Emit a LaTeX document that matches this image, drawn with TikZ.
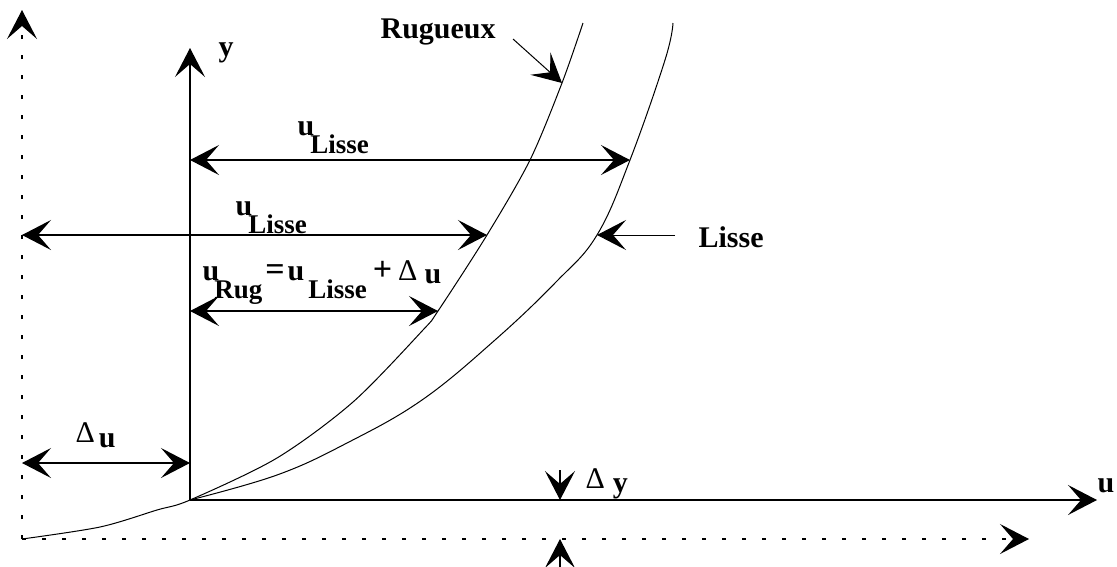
\documentclass[tikz,border=0pt]{standalone}
\usepackage{fontspec}
\setmainfont{Liberation Serif}
\usetikzlibrary{arrows.meta}
\newcommand{\indice}[1]{\raisebox{-18pt}{\fontsize{27}{30}\selectfont #1}}
\newcommand{\delt}{{\fontsize{30}{30}\selectfont\mdseries Δ}}
\newcommand{\gros}[1]{{\fontsize{34}{34}\selectfont #1}}

\begin{document}
\begin{tikzpicture}[x=1pt,y=-1pt,>={Stealth[length=29pt,width=30pt,inset=13pt]},
  line width=1.2pt,font=\fontsize{30}{36}\selectfont\bfseries,
  pointille/.style={dash pattern=on 4pt off 16pt},
  lab/.style={anchor=base west,inner sep=0pt}]
  \useasboundingbox (0,0) rectangle (1117,566);

  % origines et axes
  \coordinate (O) at (190,500);
  \coordinate (Od) at (22,539);
  \coordinate (Y) at (190,48);
  \coordinate (U) at (1097,500);
  \coordinate (Yd) at (22,10);
  \coordinate (Ud) at (1029,539);

  % points sur les courbes
  \coordinate (L1) at (630,160);
  \coordinate (L2) at (597,235);
  \coordinate (R1) at (562,83);
  \coordinate (R2) at (487,235);
  \coordinate (R3) at (438,311);

  % autres extremites
  \coordinate (A1) at (190,160);
  \coordinate (A2) at (22,235);
  \coordinate (A3) at (190,311);
  \coordinate (A4) at (22,463);
  \coordinate (A5) at (190,463);
  \coordinate (P1) at (513,39);
  \coordinate (P2) at (675,235);
  \coordinate (D1) at (560,470);
  \coordinate (D2) at (560,500);
  \coordinate (D3) at (560,575);
  \coordinate (D4) at (560,539);

  % axes pointilles
  \draw[pointille,->] (Od) -- (Yd);
  \draw[pointille,->] (Od) -- (Ud);

  % axes
  \draw[->] (O) -- (Y);
  \draw[->] (O) -- (U);

  % courbes
  \draw[line width=1pt] plot[smooth,tension=0.65] coordinates {(O) (277,475) (347,443)
    (422,400) (495,340) (556,282) (L2) (L1) (665,60) (673,23)};
  \draw[line width=1pt] plot[smooth] coordinates {(Od) (100,527) (157,510) (O) (277,458)
    (353,402) (423,330) (R3) (R2) (530,160) (R1) (583,23)};

  % fleches
  \draw[<->] (A1) -- (L1);
  \draw[<->] (A2) -- (R2);
  \draw[<->] (A3) -- (R3);
  \draw[<->] (A4) -- (A5);
  \draw[line width=1pt,->] (P1) -- (R1);
  \draw[line width=1pt,->] (P2) -- (L2);
  \draw[->] (D1) -- (D2);
  \draw[->] (D3) -- (D4);

  % textes
  \node[lab] (ly) at (218,56) {y};
  \node[lab] (lu) at (1097,492) {u};
  \node[lab] (rug) at (380,38) {Rugueux};
  \node[lab] (lis) at (698,247) {Lisse};
  \node[lab] (ulis1) at (297,135) {u\hspace{-4pt}\indice{Lisse}};
  \node[lab] (ulis2) at (235,215) {u\hspace{-4pt}\indice{Lisse}};
  \node[lab] (urug) at (202,280) {u\hspace{-5pt}\indice{Rug}\hspace{3pt}\gros{=}\hspace{3pt}u\hspace{4pt}\indice{Lisse}\hspace{6pt}\gros{+}\hspace{6pt}\delt\hspace{7pt}\raisebox{-3pt}{u}};
  \node[lab] (du) at (75,442) {\delt\hspace{4pt}\raisebox{-5pt}{u}};
  \node[lab] (dy) at (585,488) {\delt\hspace{8pt}\raisebox{-4pt}{y}};
\end{tikzpicture}
\end{document}
